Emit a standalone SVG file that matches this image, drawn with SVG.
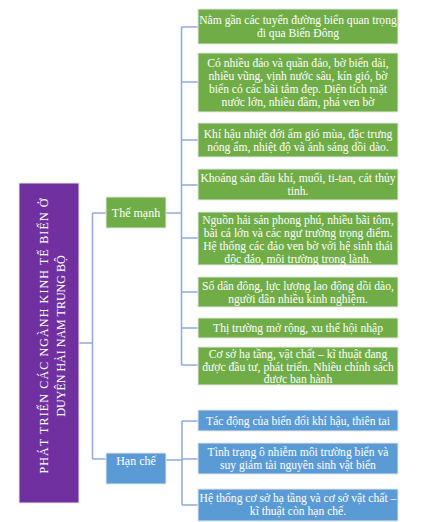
<svg xmlns="http://www.w3.org/2000/svg" width="430" height="522" viewBox="0 0 430 522">
<style>
.g{fill:#70AD47;stroke:#e6e6e6;stroke-width:1}
.b{fill:#5B9BD5;stroke:#e6e6e6;stroke-width:1}
.p{fill:#7030A0;stroke:#e6e6e6;stroke-width:1}
.t{font-family:"Liberation Serif","Times New Roman",serif;font-size:11.6px;fill:#ffffff;text-anchor:middle}
.h{font-family:"Liberation Serif","Times New Roman",serif;font-size:12px;fill:#ffffff;text-anchor:middle}
.c{fill:none;stroke:#8FAADC;stroke-width:1.5}
</style>
<rect width="430" height="522" fill="#ffffff"/>
<g id="connectors">
<path class="c" d="M79,343 H92.5 M92.5,213 V459 M92.5,213 H106 M92.5,459 H106"/>
<path class="c" d="M166,213 H181.5 M181.5,27 V365 M181.5,27 H198 M181.5,82 H198 M181.5,140 H198 M181.5,185 H198 M181.5,238 H198 M181.5,292 H198 M181.5,328 H198 M181.5,365 H198"/>
<path class="c" d="M166,460 H182 M182,421 V505 M182,421 H198 M182,459 H198 M182,505 H198"/>
</g>
<g id="title">
<rect class="p" x="19" y="183" width="60" height="320"/>
<g transform="translate(51,336) rotate(-90)">
<text class="h" x="0" y="-3" font-size="13" textLength="275" lengthAdjust="spacing">PHÁT TRIỂN CÁC NGÀNH KINH TẾ BIỂN Ở</text>
<text class="h" x="0" y="14" font-size="13">DUYÊN HẢI NAM TRUNG BỘ</text>
</g>
</g>
<g id="the-manh">
<rect class="g" x="106" y="197" width="60" height="31"/>
<text class="h" x="136" y="217">Thế mạnh</text>
</g>
<g id="han-che">
<rect class="b" x="106" y="453" width="60" height="31"/>
<text class="h" x="136" y="465">Hạn chế</text>
</g>
<g id="n1">
<rect class="g" x="198" y="9" width="200" height="35"/>
<text class="t" x="298" y="24">Nằm gần các tuyến đường biển quan trọng</text>
<text class="t" x="298" y="37">đi qua Biển Đông</text>
</g>
<g id="n2">
<rect class="g" x="198" y="53" width="200" height="59"/>
<text class="t" x="298" y="67">Có nhiều đảo và quần đảo, bờ biển dài,</text>
<text class="t" x="298" y="80">nhiều vũng, vịnh nước sâu, kín gió, bờ</text>
<text class="t" x="298" y="93">biển có các bãi tắm đẹp. Diện tích mặt</text>
<text class="t" x="298" y="106">nước lớn, nhiều đầm, phá ven bờ</text>
</g>
<g id="n3">
<rect class="g" x="198" y="123" width="200" height="34"/>
<text class="t" x="298" y="137.5">Khí hậu nhiệt đới ẩm gió mùa, đặc trưng</text>
<text class="t" x="298" y="150.5">nóng ẩm, nhiệt độ và ánh sáng dồi dào.</text>
</g>
<g id="n4">
<rect class="g" x="198" y="169" width="200" height="31"/>
<text class="t" x="298" y="182">Khoáng  sản dầu khí, muối, ti-tan, cát thủy</text>
<text class="t" x="298" y="195">tinh.</text>
</g>
<g id="n5">
<rect class="g" x="198" y="212" width="200" height="53"/>
<text class="t" x="298" y="223.5">Nguồn hải sản phong phú, nhiều bãi tôm,</text>
<text class="t" x="298" y="236.5">bãi cá lớn và các ngư trường trọng điểm.</text>
<text class="t" x="298" y="249.5">Hệ thống các đảo ven bờ với hệ sinh thái</text>
<text class="t" x="298" y="262.5">độc đáo, môi trường trong lành.</text>
</g>
<g id="n6">
<rect class="g" x="198" y="277" width="200" height="30"/>
<text class="t" x="298" y="289.5">Số dân đông, lực lượng lao động dồi dào,</text>
<text class="t" x="298" y="302.5">người dân nhiều kinh nghiệm.</text>
</g>
<g id="n7">
<rect class="g" x="198" y="318" width="200" height="20"/>
<text class="t" x="298" y="332">Thị trường mở rộng, xu thế hội nhập</text>
</g>
<g id="n8">
<rect class="g" x="198" y="347" width="200" height="38"/>
<text class="t" x="298" y="357.5">Cơ sở hạ tầng, vật chất – kĩ thuật đang</text>
<text class="t" x="298" y="370.5">được đầu tư, phát triển. Nhiều chính sách</text>
<text class="t" x="298" y="383">được ban hành</text>
</g>
<g id="n9">
<rect class="b" x="198" y="410" width="200" height="21"/>
<text class="t" x="298" y="424.5">Tác động của biến đổi khí hậu, thiên tai</text>
</g>
<g id="n10">
<rect class="b" x="198" y="443" width="200" height="31"/>
<text class="t" x="298" y="456">Tình trạng ô nhiễm môi trường biển và</text>
<text class="t" x="298" y="469">suy giảm tài nguyên sinh vật biển</text>
</g>
<g id="n11">
<rect class="b" x="198" y="489" width="200" height="32"/>
<text class="t" x="298" y="502">Hệ thống cơ sở hạ tầng và cơ sở vật chất –</text>
<text class="t" x="298" y="515">kĩ thuật còn hạn chế.</text>
</g>
</svg>
